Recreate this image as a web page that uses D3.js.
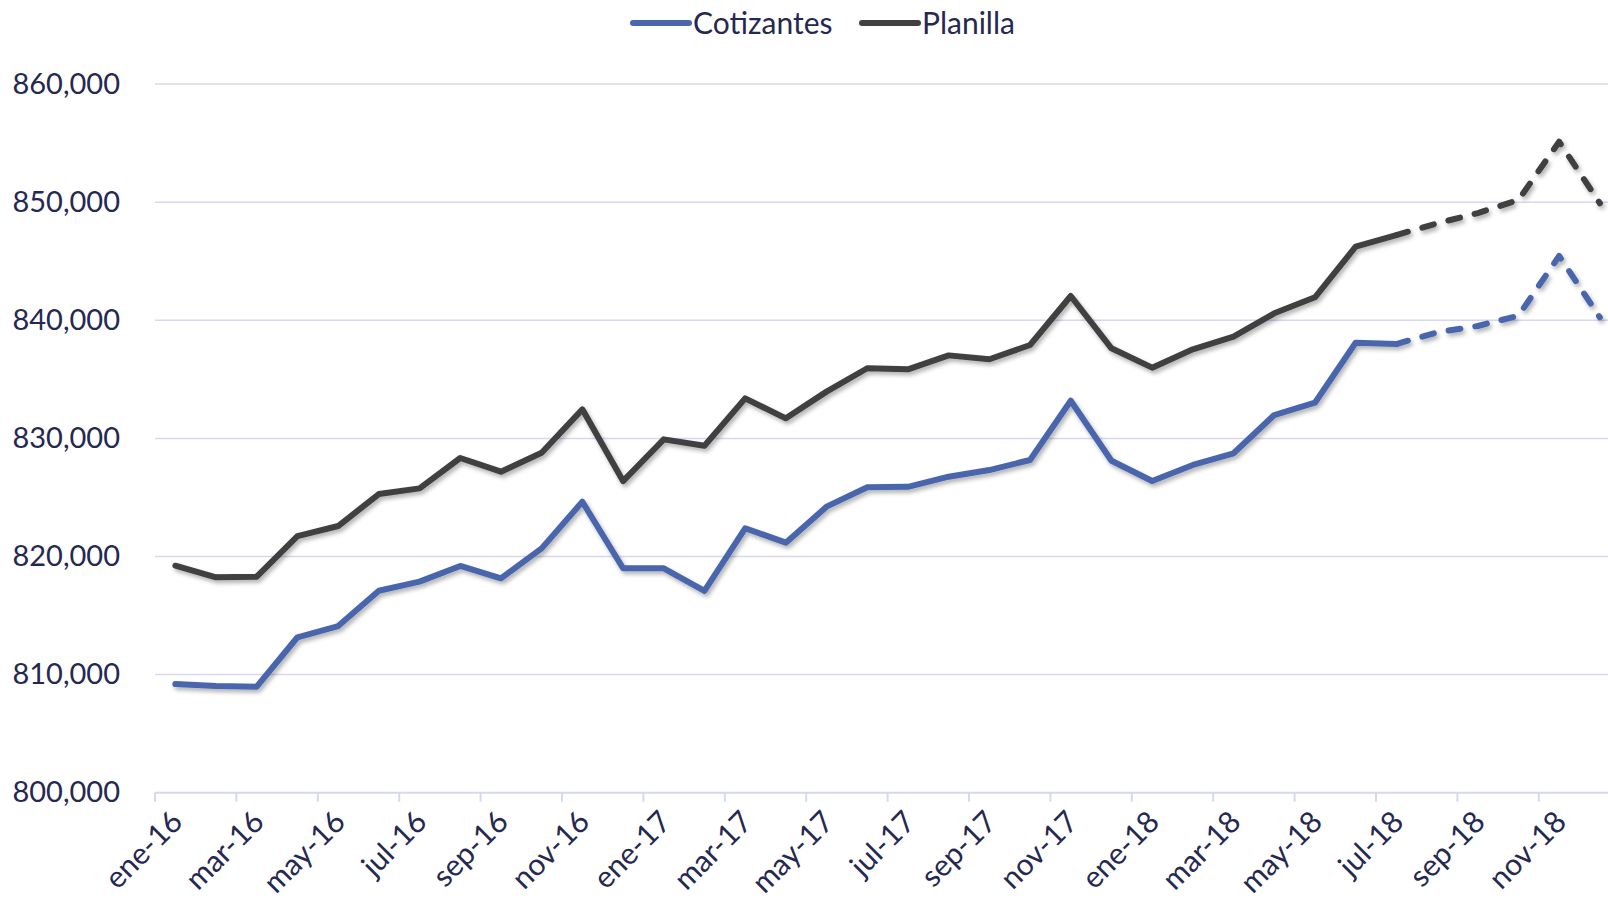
<!DOCTYPE html>
<html>
<head>
<meta charset="utf-8">
<script src="https://cdn.jsdelivr.net/npm/d3@7"></script>
<style>
  body { margin: 0; background: #fff; }
  svg text { font-family: Lato, "Open Sans", sans-serif; fill: #252850; }
</style>
</head>
<body>
<div id="chart-container"></div>
<script>
// meses ene-16 .. dic-18
const months = ['ene','feb','mar','abr','may','jun','jul','ago','sep','oct','nov','dic'];
const categories = [];
for (const yy of ['16', '17', '18']) {
  for (const m of months) categories.push(m + '-' + yy);
}

// Cotizantes (azul)
const cotizantes = [
  809200, 809030, 808980, 813160, 814110, 817100, 817870, 819200, 818150, 820690, 824640, 819000,
  819000, 817080, 822390, 821170, 824220, 825860, 825900, 826760, 827320, 828170, 833190, 828110,
  826390, 827750, 828740, 831980, 833020, 838100, 837990, 838980, 839520, 840390, 845450, 840250
];

// Planilla (gris oscuro)
const planilla = [
  819220, 818240, 818290, 821730, 822580, 825290, 825770, 828340, 827180, 828790, 832460, 826390,
  829920, 829380, 833390, 831700, 833960, 835940, 835850, 837030, 836700, 837910, 842060, 837630,
  835990, 837540, 838610, 840590, 841950, 846230, 847220, 848210, 849080, 850190, 855120, 849910
];

// desde jul-18 la serie se proyecta (linea punteada)
const projStart = 30;
const yTicks = [800000, 810000, 820000, 830000, 840000, 850000, 860000];

const series = [
  { name: 'Cotizantes', values: cotizantes, color: '#4a66ac' },
  { name: 'Planilla', values: planilla, color: '#404040' }
];

const width = 1608, height = 905;
const svg = d3.select('#chart-container').append('svg')
  .attr('width', width).attr('height', height);

const defs = svg.append('defs');
const shadow = defs.append('filter').attr('id', 'shadow')
  .attr('x', '-5%').attr('y', '-5%').attr('width', '110%').attr('height', '120%');
shadow.append('feDropShadow')
  .attr('dx', 2).attr('dy', 3).attr('stdDeviation', 2)
  .attr('flood-color', '#000').attr('flood-opacity', 0.3);

const left = 155, band = 40.7;
const xScale = d3.scaleBand().domain(categories)
  .range([left, left + band * categories.length]).paddingInner(0).paddingOuter(0);
const yScale = d3.scaleLinear().domain([800000, 860000]).range([792.7, 84.1]);
const cx = (d) => xScale(d) + xScale.bandwidth() / 2;

// gridlines
svg.append('g').selectAll('line')
  .data(yTicks.slice(1))
  .join('line')
  .attr('x1', left).attr('x2', width)
  .attr('y1', (d) => yScale(d)).attr('y2', (d) => yScale(d))
  .attr('stroke', '#d6d8f0').attr('stroke-width', 1.5);

// y axis labels
const yAxis = d3.axisLeft(yScale).tickValues(yTicks).tickSize(0).tickPadding(35)
  .tickFormat(d3.format(','));
svg.append('g').attr('class', 'y-axis')
  .attr('transform', `translate(${left},0)`)
  .call(yAxis)
  .call((g) => g.select('.domain').remove())
  .call((g) => g.selectAll('text').attr('font-size', 29).style('font-family', null));

// x axis: ticks at category boundaries every 2 months
const axisY = yScale(800000);
svg.append('line')
  .attr('x1', left).attr('x2', width).attr('y1', axisY).attr('y2', axisY)
  .attr('stroke', '#d6d8f0').attr('stroke-width', 2);

const tickCats = categories.filter((d, i) => i % 2 === 0);
svg.append('g').selectAll('line')
  .data(tickCats)
  .join('line')
  .attr('x1', (d) => xScale(d)).attr('x2', (d) => xScale(d))
  .attr('y1', axisY).attr('y2', axisY + 9)
  .attr('stroke', '#d6d8f0').attr('stroke-width', 2);

svg.append('g').selectAll('text')
  .data(tickCats)
  .join('text')
  .attr('text-anchor', 'end')
  .attr('font-size', 30)
  .attr('transform', (d) => `translate(${cx(d) + 9},${axisY + 31}) rotate(-45)`)
  .text((d) => d);

// lines
const line = d3.line()
  .x((d) => cx(d.cat))
  .y((d) => yScale(d.v));

for (const s of series) {
  const pts = s.values.map((v, i) => ({ cat: categories[i], v: v }));
  const g = svg.append('g').attr('filter', 'url(#shadow)');
  g.append('path')
    .datum(pts.slice(0, projStart + 1))
    .attr('d', line)
    .attr('fill', 'none')
    .attr('stroke', s.color)
    .attr('stroke-width', 6)
    .attr('stroke-linejoin', 'round')
    .attr('stroke-linecap', 'round');
  g.append('path')
    .datum(pts.slice(projStart))
    .attr('d', line)
    .attr('fill', 'none')
    .attr('stroke', s.color)
    .attr('stroke-width', 6)
    .attr('stroke-linejoin', 'round')
    .attr('stroke-linecap', 'round')
    .attr('stroke-dasharray', '12,15');
}

// legend
const legendItems = [
  { name: 'Cotizantes', color: '#4a66ac', x: 633 },
  { name: 'Planilla', color: '#404040', x: 862 }
];
const legend = svg.append('g').selectAll('g')
  .data(legendItems)
  .join('g')
  .attr('transform', (d) => `translate(${d.x},23)`);
legend.append('line')
  .attr('x1', 0).attr('x2', 56)
  .attr('stroke', (d) => d.color).attr('stroke-width', 6)
  .attr('stroke-linecap', 'round');
legend.append('text')
  .attr('x', 60).attr('dy', '0.35em')
  .attr('font-size', 30)
  .text((d) => d.name);
</script>
</body>
</html>
